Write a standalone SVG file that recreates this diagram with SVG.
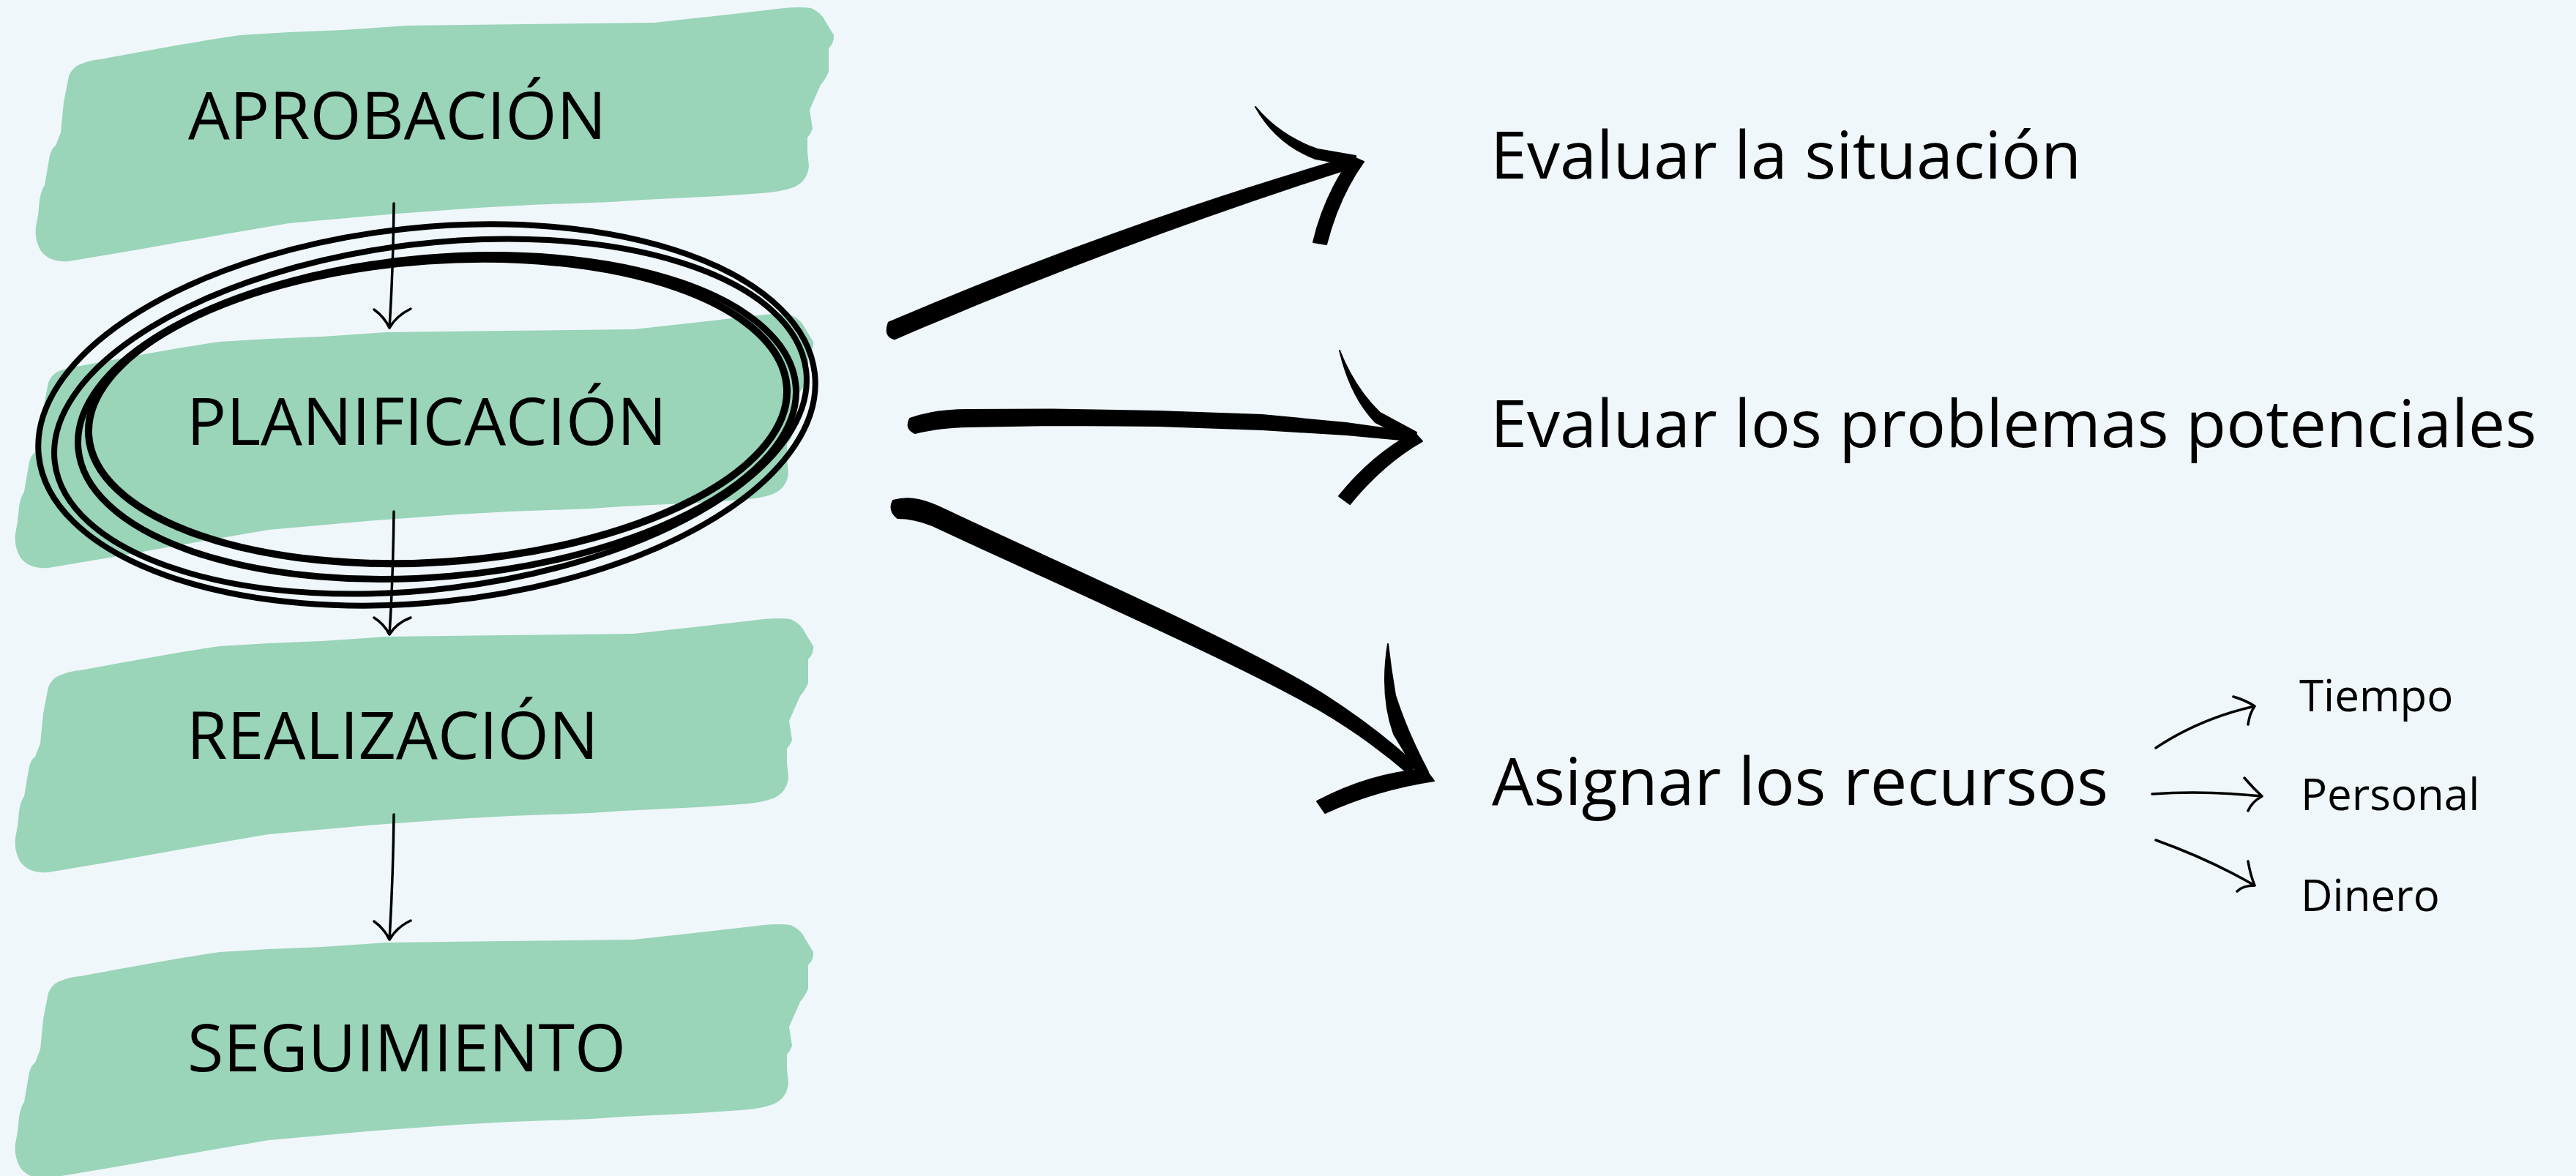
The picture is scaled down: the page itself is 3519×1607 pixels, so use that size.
<svg xmlns="http://www.w3.org/2000/svg" xmlns:xlink="http://www.w3.org/1999/xlink" width="3519" height="1607" viewBox="0 0 3519 1607">
<style>
.bg{fill:#EFF7FA}
.brush{fill:#9AD4B9}
.lbl{font-family:"Open Sans","Liberation Sans",sans-serif;font-size:90px;fill:#000}
.sm{font-family:"Open Sans","Liberation Sans",sans-serif;font-size:60px;fill:#000}
.thin{fill:none;stroke:#000;stroke-width:3.5;stroke-linecap:round;stroke-linejoin:round}
.loop{fill:none;stroke:#000;stroke-width:8}
.heavy{fill:#000;stroke:#000;stroke-width:2;stroke-linejoin:round}
</style>
<defs>
<path id="stroke" d="M110,71 C170,60 250,45 300,38 L367,34 L440,31 L528,25 L690,23 L866,21 Q910,16 939,13 L1027,3 Q1060,-2 1080,1 Q1095,8 1100,20 L1111,38 Q1112,48 1104,56 L1104,88 Q1100,98 1093,106 L1086,122 L1078,140 L1082,166 Q1080,172 1075,178 L1075,197 L1077,217 Q1075,238 1056,246 Q1040,252 1012,254 L954,258 L851,263 L807,266 L697,270 L624,274 L514,282 L367,295 L279,310 L161,331 L66,347 Q40,349 28,333 Q19,318 21,300 L24,284 L26,264 Q28,250 33,243 L40,202 Q43,192 48,189 L55,171 L59,130 L66,94 Q71,82 81,78 Q95,72 110,71 Z"/>
</defs>
<rect class="bg" x="0" y="0" width="3519" height="1607"/>

<g id="node-aprobacion">
<use href="#stroke" class="brush" transform="translate(28,10)"/>
<text class="lbl" x="257" y="190">APROBACIÓN</text>
</g>
<g id="node-planificacion">
<use href="#stroke" class="brush" transform="translate(0,429)"/>
<text class="lbl" x="255" y="608">PLANIFICACIÓN</text>
</g>
<g id="node-realizacion">
<use href="#stroke" class="brush" transform="translate(0,845)"/>
<text class="lbl" x="255" y="1037">REALIZACIÓN</text>
</g>
<g id="node-seguimiento">
<use href="#stroke" class="brush" transform="translate(0,1263)"/>
<text class="lbl" x="256" y="1464">SEGUIMIENTO</text>
</g>

<g id="highlight">
<ellipse class="loop" cx="583" cy="567" rx="533" ry="256" transform="rotate(-6 583 567)"/>
<ellipse class="loop" cx="588" cy="569" rx="517" ry="236" transform="rotate(-7 588 569)"/>
<ellipse class="loop" cx="597" cy="570" rx="492" ry="218" transform="rotate(-5 597 570)" style="stroke-width:9"/>
<ellipse class="loop" cx="598" cy="562" rx="478" ry="206" transform="rotate(-4 598 562)" style="stroke-width:10"/>
</g>

<g id="node-evaluar-situacion"><text class="lbl" x="2036" y="244">Evaluar la situación</text></g>
<g id="node-evaluar-problemas"><text class="lbl" x="2036" y="611">Evaluar los problemas potenciales</text></g>
<g id="node-asignar"><text class="lbl" x="2038" y="1100">Asignar los recursos</text></g>
<g id="node-tiempo"><text class="sm" x="3141" y="972">Tiempo</text></g>
<g id="node-personal"><text class="sm" x="3143" y="1107">Personal</text></g>
<g id="node-dinero"><text class="sm" x="3143" y="1245">Dinero</text></g>

<g id="connectors">
<path class="thin" d="M538,278 Q537,370 532,448 M511,423 Q525,433 532,448 Q542,431 561,422"/>
<path class="thin" d="M538,699 Q537,790 532,867 M511,844 Q525,853 532,867 Q542,851 561,844"/>
<path class="thin" d="M538,1113 Q537,1200 532,1284 M511,1259 Q525,1269 532,1284 Q542,1267 561,1258"/>

<path class="heavy" d="M1213.9,440.7 Q1521,309.2 1842.4,215 L1847.6,229 Q1529,330.8 1222.1,463.3 Q1207,460 1213.9,440.7 Z"/>
<path class="heavy" d="M1715,146 Q1748,186 1800,204 L1852,213 L1852,227 L1797,217 Q1744,197 1715,146 Z"/>
<path class="heavy" d="M1847,214 L1863,221 Q1829,268 1812,334 L1794,331 Q1809,267 1847,214 Z"/>

<path class="heavy" d="M1243,572 C1270,562 1300,560 1322,560 L1437,559.5 L1581,562 L1724,567 L1839,578 L1925,590 L1925,602 L1839,594 L1724,587 L1581,582 L1437,581 L1322,583 C1300,583 1270,587 1250,592 Q1236,586 1243,572 Z"/>
<path class="heavy" d="M1830,479 Q1850,530 1885,564 L1935,591 L1932,604 L1879,577 Q1845,542 1830,479 Z"/>
<path class="heavy" d="M1932,591 L1943,603 Q1890,633 1844,689 L1829,678 Q1875,621 1932,591 Z"/>

<path class="heavy" d="M1220,684 C1245,677 1265,684 1290,696 C1450,772 1700,880 1810,950 Q1880,995 1934,1045 L1925,1058 Q1870,1010 1802,970 C1690,905 1440,796 1278,720 C1258,711 1240,708 1226,708 Q1213,698 1220,684 Z"/>
<path class="heavy" d="M1896,880 Q1885,950 1904,1003 L1940,1063 L1951,1055 Q1922,1000 1906,950 Q1900,915 1896,880 Z"/>
<path class="heavy" d="M1947,1051 L1959,1067 Q1880,1079 1810,1111 L1799,1095 Q1870,1057 1947,1051 Z"/>

<path class="thin" d="M2945,1022 Q3005,982 3080,965 M3051,952 Q3068,957 3080,965 Q3073,975 3071,990"/>
<path class="thin" d="M2940,1085 Q3010,1080 3090,1088 M3066,1063 Q3078,1077 3090,1088 Q3076,1096 3071,1108"/>
<path class="thin" d="M2945,1148 Q3020,1175 3080,1210 M3071,1177 Q3074,1195 3080,1210 Q3064,1210 3056,1218"/>
</g>
</svg>
